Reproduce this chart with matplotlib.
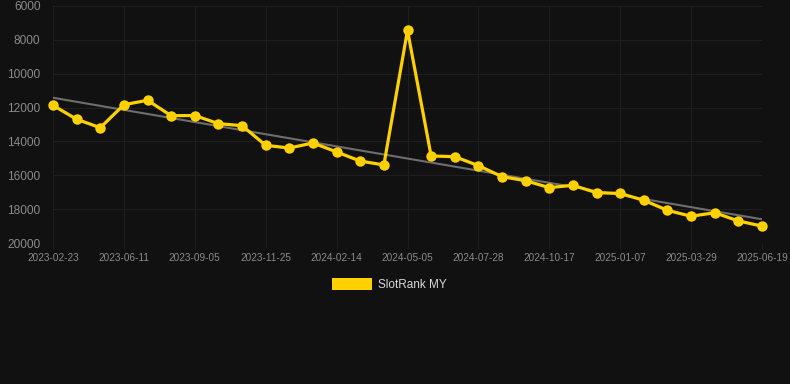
import numpy as np
import matplotlib
matplotlib.use("Agg")
import matplotlib.pyplot as plt
from matplotlib.patches import Rectangle

plt.rcParams['font.family'] = ['Liberation Sans', 'DejaVu Sans']

# x-axis categories (only every third one is labelled)
tick_labels = ['2023-02-23', '2023-06-11', '2023-09-05', '2023-11-25', '2024-02-14',
               '2024-05-05', '2024-07-28', '2024-10-17', '2025-01-07', '2025-03-29',
               '2025-06-19']

# rank values
rank = [11870, 12690, 13190, 11830, 11570, 12480, 12470, 12950, 13070, 14230,
        14390, 14090, 14620, 15160, 15390, 7440, 14860, 14900, 15430, 16080,
        16320, 16730, 16590, 17030, 17070, 17480, 18070, 18420, 18210, 18700,
        19000]

# trend line end values
trend_ends = [11420, 18600]

bg = '#111111'
yellow = '#ffd100'

fig = plt.figure(figsize=(7.9, 3.84), dpi=100, facecolor=bg)
ax = fig.add_axes([53 / 790, 1 - 243 / 384, (762 - 53) / 790, (243 - 6) / 384])
ax.set_facecolor(bg)

x = np.arange(len(rank))
ax.plot([x[0], x[-1]], trend_ends, color='#6e6e6e', lw=1.5, zorder=2)
ax.plot(x, rank, color=yellow, lw=2.3, marker='o', markersize=7.5,
        markeredgewidth=0, zorder=3, clip_on=False)

ax.set_xlim(x[0], x[-1])
ax.set_ylim(20000, 6000)
ax.set_yticks(range(6000, 20001, 2000))
ax.set_xticks(x[::3])
ax.set_xticklabels(tick_labels)

ax.grid(True, color='#1e1e1e', lw=0.8)
ax.set_axisbelow(True)
for s in ax.spines.values():
    s.set_visible(False)
ax.tick_params(axis='y', length=0, pad=9, labelsize=8.6, labelcolor='#8a8a8a')
ax.tick_params(axis='x', length=4, width=0.8, color='#1e1e1e', pad=3,
               labelsize=7.2, labelcolor='#8a8a8a')

# legend drawn by hand like the chart's box
fig.patches.append(Rectangle((332 / 790, 1 - 290 / 384), 40 / 790, 12 / 384,
                             transform=fig.transFigure, facecolor=yellow,
                             edgecolor='none'))
fig.text(378 / 790, 1 - 285 / 384, 'SlotRank MY', color='#d8d8d8', fontsize=8.5,
         va='center', ha='left')

fig.savefig('out.png', dpi=100, facecolor=bg)
